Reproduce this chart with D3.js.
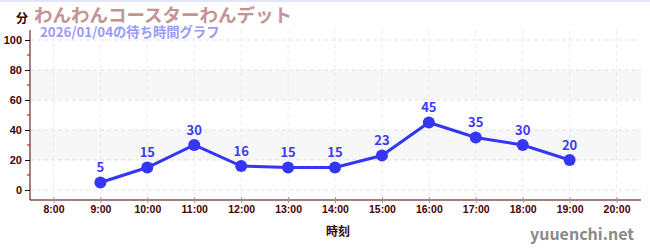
<!DOCTYPE html>
<html>
<head>
<meta charset="utf-8">
<script src="https://d3js.org/d3.v7.min.js"></script>
<style>
  body { margin: 0; background: #fff; }
  svg { display: block; font-family: "Noto Sans CJK JP", "Noto Sans", sans-serif; }
</style>
</head>
<body>
<div id="chart"></div>
<script>
const titleText = 'わんわんコースターわんデット'
const subtitleText = '2026/01/04の待ち時間グラフ'
const yUnit = '分'
const xTitle = '時刻'
const credit = 'yuuenchi.net'

const hours = [8, 9, 10, 11, 12, 13, 14, 15, 16, 17, 18, 19, 20]
const pointHours = [9, 10, 11, 12, 13, 14, 15, 16, 17, 18, 19]
const waits = [5, 15, 30, 16, 15, 15, 23, 45, 35, 30, 20]
const yTicks = [0, 20, 40, 60, 80, 100]
const yMinor = [10, 30, 50, 70, 90]
const bands = [[20, 40], [60, 80]]

const w = 650
const h = 250
const padLeft = 30, padRight = 641, padTop = 30, padBottom = 200

const svg = d3.select('#chart').append('svg')
    .attr('width', w)
    .attr('height', h)

const x = d3.scaleLinear().domain([7.5, 20.5]).range([padLeft, padRight - 1])
const y = d3.scaleLinear().domain([-6.667, 106.667]).range([padBottom, padTop])

// top border
svg.append('rect').attr('x', 0).attr('y', 0).attr('width', w).attr('height', 2).attr('fill', '#e4e4fb')

// bands
svg.selectAll('.band').data(bands).enter().append('rect')
    .attr('x', padLeft).attr('width', padRight - padLeft)
    .attr('y', d => y(d[1])).attr('height', d => y(d[0]) - y(d[1]))
    .attr('fill', '#f7f7f7')

// grid
svg.append('g').selectAll('line').data(yTicks).enter().append('line')
    .attr('x1', padLeft).attr('x2', padRight)
    .attr('y1', d => y(d)).attr('y2', d => y(d))
    .attr('stroke', '#e3e3e3').attr('stroke-dasharray', '4,3')
svg.append('g').selectAll('line').data(hours).enter().append('line')
    .attr('x1', d => x(d)).attr('x2', d => x(d))
    .attr('y1', padTop).attr('y2', padBottom)
    .attr('stroke', '#ececec').attr('stroke-dasharray', '4,3')

// y axis
const yAxis = svg.append('g')
    .attr('transform', 'translate(' + padLeft + ',0)')
    .call(d3.axisLeft(y).tickValues(yTicks).tickSize(5).tickPadding(3))
yAxis.select('.domain').attr('stroke', '#4a0000').attr('d', 'M0,' + padTop + 'V' + padBottom)
yAxis.selectAll('.tick line').attr('stroke', '#111')
yAxis.selectAll('.tick text').attr('fill', '#4a0000').style('font-size', '11px').style('font-weight', 'bold')
svg.append('g').selectAll('line').data(yMinor).enter().append('line')
    .attr('x1', padLeft - 3).attr('x2', padLeft)
    .attr('y1', d => y(d)).attr('y2', d => y(d))
    .attr('stroke', '#e00000')

// x axis
const xAxis = svg.append('g')
    .attr('transform', 'translate(0,' + padBottom + ')')
    .call(d3.axisBottom(x).tickValues(hours).tickFormat(d => d + ':00').tickSize(3).tickPadding(3))
xAxis.select('.domain').attr('stroke', '#4a0000').attr('d', 'M' + padLeft + ',0H' + padRight)
xAxis.selectAll('.tick line').attr('stroke', '#999').attr('y1', -3)
xAxis.selectAll('.tick text').attr('fill', '#4a0000').style('font-size', '10.5px').style('font-weight', 'bold')

// line
const data = pointHours.map((hr, i) => ({hr: hr, v: waits[i]}))
svg.append('path').datum(data)
    .attr('fill', 'none').attr('stroke', '#3535f5').attr('stroke-width', 3)
    .attr('d', d3.line().x(d => x(d.hr)).y(d => y(d.v)))
svg.selectAll('.pt').data(data).enter().append('circle')
    .attr('cx', d => x(d.hr)).attr('cy', d => y(d.v)).attr('r', 6)
    .attr('fill', '#3535f5')
svg.selectAll('.lbl').data(data).enter().append('text')
    .attr('x', d => x(d.hr)).attr('y', d => y(d.v) - 10)
    .attr('text-anchor', 'middle')
    .attr('fill', '#3b3bf0').style('font-size', '13px').style('font-weight', 'bold')
    .text(d => d.v)

// titles
svg.append('text').attr('x', 16).attr('y', 23)
    .attr('fill', '#3a0000').style('font-size', '12px').style('font-weight', 'bold')
    .text(yUnit)
svg.append('text').attr('x', 34).attr('y', 22)
    .attr('fill', '#c49494').style('font-size', '18.5px').style('font-weight', 'bold')
    .text(titleText)
svg.append('text').attr('x', 40).attr('y', 36.5)
    .attr('fill', '#9a9afa').style('font-size', '13.3px').style('font-weight', 'bold')
    .text(subtitleText)
svg.append('text').attr('x', 338).attr('y', 236).attr('text-anchor', 'middle')
    .attr('fill', '#3a0000').style('font-size', '12px').style('font-weight', 'bold')
    .text(xTitle)
svg.append('text').attr('x', 634).attr('y', 240).attr('text-anchor', 'end')
    .attr('fill', '#8a8a8a').style('font-size', '16px').style('font-weight', 'bold')
    .text(credit)
</script>
</body>
</html>
